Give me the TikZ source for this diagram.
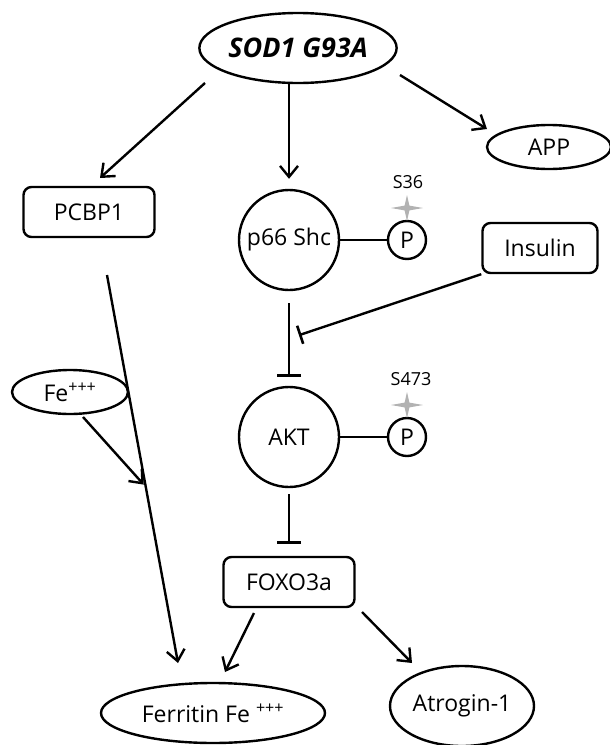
\documentclass[tikz,border=0pt]{standalone}
\usepackage{fontspec}
\setmainfont{Open Sans}
\usepackage{tikz}
\usetikzlibrary{positioning,arrows.meta,calc,shapes.geometric}

\tikzset{
  lbl/.style={font=\fontsize{23}{27}\selectfont},
  arr/.style={line width=2.4pt,-{Straight Barb[length=11pt,width=18pt]}},
  inh/.style={line width=2.4pt,-{Bar[width=24pt,line width=2.6pt]}},
  box/.style={draw,line width=2.4pt,rounded corners=8pt,
    minimum width=131pt,minimum height=50pt,lbl},
  oval/.style={draw,ellipse,line width=2.4pt,inner sep=0pt,lbl},
  prot/.style={draw,circle,line width=2.4pt,minimum size=100pt,inner sep=0pt,lbl},
  phos/.style={draw,circle,line width=2.4pt,minimum size=38pt,inner sep=0pt,lbl},
  site/.style={font=\fontsize{18}{21}\selectfont},
  pstar/.pic={\fill[black!30] (0,-13) -- (2.4,-2.4) -- (16,0) -- (2.4,2.4)
    -- (0,13) -- (-2.4,2.4) -- (-16,0) -- (-2.4,-2.4) -- cycle;}
}

\begin{document}
\begin{tikzpicture}[x=1pt,y=-1pt]
\useasboundingbox (0,0) rectangle (610,745);

% nodes
\node[oval,minimum width=194pt,minimum height=70pt,
  font=\fontsize{27}{31}\selectfont\bfseries\itshape] (sod) at (298,48) {SOD1 G93A};
\node[oval,minimum width=124pt,minimum height=44pt] (app) at (549,147) {APP};
\node[box] (pcbp) at (89,212) {PCBP1};
\node[prot] (p66) at (289,240) {p66 Shc};
\node[phos] (pa) at (407,240) {P};
\node[box,minimum width=115pt] (ins) at (540,248) {Insulin};
\node[oval,minimum width=116pt,minimum height=44pt] (fe) at (70,392) {Fe\textsuperscript{+++}};
\node[prot] (akt) at (289,437) {AKT};
\node[phos] (pb) at (407,437) {P};
\node[box] (foxo) at (289,582) {FOXO3a};
\node[oval,minimum width=224pt,minimum height=60pt] (ferr) at (213,713) {Ferritin Fe \textsuperscript{+++}};
\node[oval,minimum width=144pt,minimum height=80pt] (atro) at (462,706) {Atrogin-1};

% phosphorylation sites
\node[site] (s36) at (408,182) {S36};
\node[site] (s473) at (411,379) {S473};
\pic at ($(pa)+(0,-32)$) {pstar};
\pic at ($(pb)+(0,-32)$) {pstar};

% connectors
\draw[arr] (sod.south -| p66) -- (p66) [shorten >=10pt];
\draw[arr] ($(sod)+(-93,35)$) -- ($(pcbp)+(11,-34)$);
\draw[arr] ($(sod)+(102,27)$) -- ($(app)+(-62,-18)$);
\draw[line width=2.4pt] (p66) -- (pa);
\draw[line width=2.4pt] (akt) -- (pb);
\draw[inh,shorten <=12pt,shorten >=9pt] (p66) -- (akt);
\coordinate (mid) at ($(p66)!0.5!(akt)$);
\draw[inh,-{Bar[width=19pt,line width=2.6pt]},shorten >=10.5pt] (ins.south west) -- (mid);
\draw[inh,shorten <=6pt,shorten >=12pt] (akt) -- (foxo);
\coordinate (pcbpout) at ($(pcbp)+(18,63)$);
\coordinate (ferrin) at ($(ferr)+(-35,-50)$);
\draw[arr] (pcbpout) -- (ferrin);
\coordinate (hit) at ($(pcbpout)!0.546!(ferrin)$);
\draw[arr,shorten >=3pt] ($(fe)+(13,25)$) -- (hit);
\draw[arr] ($(foxo)+(-35,31)$) -- ($(ferr)+(12,-41)$);
\draw[arr] ($(foxo)+(73,30)$) -- ($(atro)+(-50,-43)$);
\end{tikzpicture}
\end{document}
